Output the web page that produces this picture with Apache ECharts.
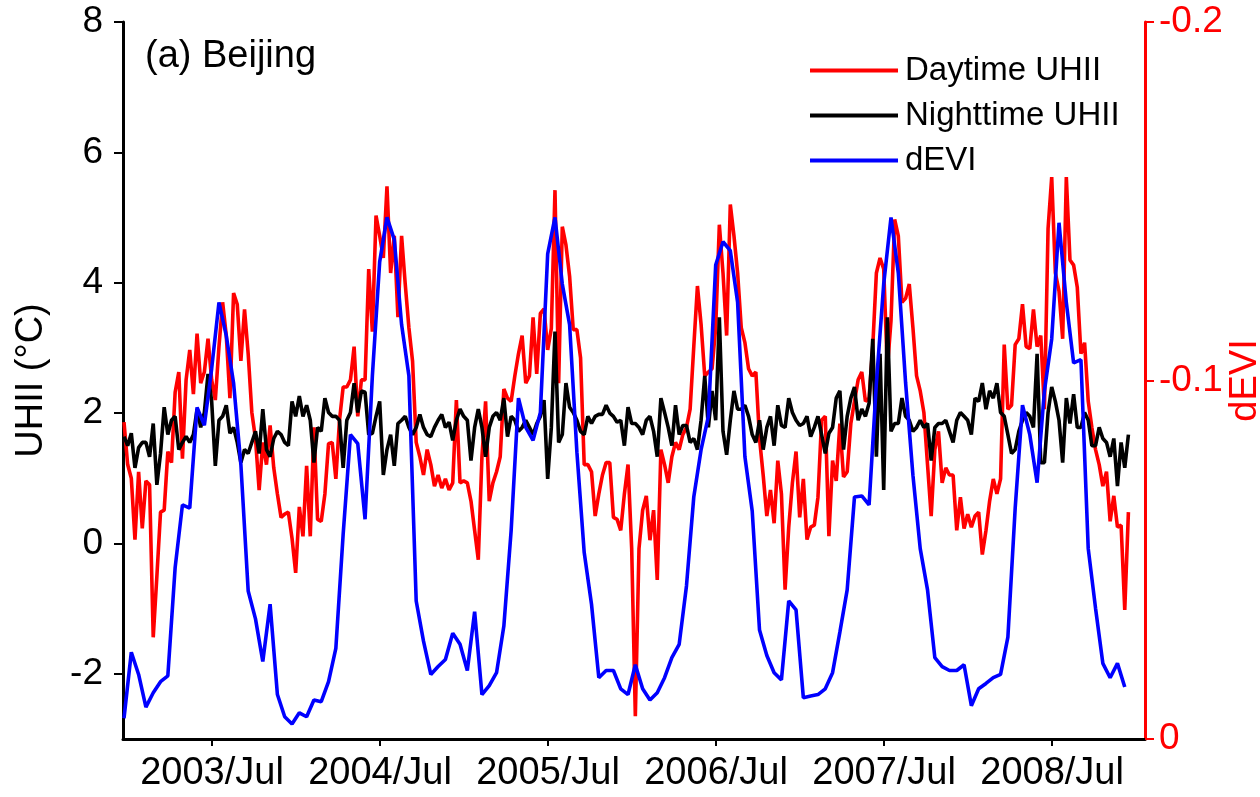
<!DOCTYPE html>
<html>
<head>
<meta charset="utf-8">
<script src="https://cdn.jsdelivr.net/npm/echarts@6/dist/echarts.min.js"></script>
<style>
html,body{margin:0;padding:0;background:#fff;}
#chart{width:1260px;height:797px;}
</style>
</head>
<body>
<div id="chart"></div>
<script>
// 8-day composites starting 2003 (46 per year)
const DAY_UHII = [
1.86,1.21,1.0,0.06,1.10,0.23,0.96,0.90,-1.44,-0.5,
0.48,0.51,1.41,1.24,2.32,2.63,1.30,2.51,2.97,2.29,
3.22,2.46,2.63,3.14,2.51,2.2,3.02,3.70,3.19,2.23,
3.84,3.67,2.80,3.59,2.91,2.01,1.61,0.82,1.55,1.21,
1.81,1.16,0.76,0.40,0.45,0.48,0.08,-0.45,0.56,0.11,
1.19,0.11,1.78,0.37,0.34,0.76,1.53,1.55,0.99,1.89,
2.40,2.40,2.51,3.02,1.95,2.51,2.51,4.21,3.25,5.03,
4.72,4.38,5.48,4.15,4.72,3.47,4.72,3.98,3.31,2.80,
1.55,1.33,1.05,1.44,1.21,0.88,1.05,0.85,0.99,0.82,
0.93,2.20,0.93,0.96,0.93,0.65,0.20,-0.25,1.33,2.18,
0.65,0.93,1.10,1.33,2.37,2.23,2.18,2.57,2.91,3.19,
2.46,2.57,3.47,2.60,3.53,3.6,2.97,3.3,5.42,2.46,
4.86,4.58,4.10,3.28,3.28,2.85,1.21,1.21,1.10,0.42,
0.76,1.05,1.24,1.24,0.40,0.37,0.20,0.76,1.21,-0.08,
-2.65,-0.08,0.51,0.73,0.05,0.51,-0.56,1.44,1.21,0.93,
1.33,1.55,1.44,1.67,1.78,2.06,3.02,3.95,3.36,2.57,
2.63,2.68,3.31,4.89,4.15,3.19,5.20,4.72,4.15,3.31,
3.08,2.68,2.57,2.63,1.61,1.05,0.42,0.82,0.31,1.27,
0.76,-0.71,0.25,0.93,1.41,0.40,0.99,0.06,0.25,0.28,
0.71,1.89,1.95,0.11,1.27,0.96,1.84,1.02,1.10,1.84,
2.18,2.51,2.63,2.18,2.23,3.02,4.15,4.38,4.21,2.68,
3.42,4.97,4.72,3.70,3.76,3.98,3.31,2.57,2.34,2.01,
1.21,0.42,1.44,1.72,0.93,1.16,1.05,1.05,0.20,0.71,
0.23,0.45,0.25,0.42,0.48,-0.17,0.20,0.65,0.99,0.76,
0.99,3.05,2.06,2.12,3.05,3.14,3.67,3.02,2.99,3.59,
3.02,3.19,2.06,4.83,5.62,4.15,3.87,3.14,5.62,4.35,
4.27,3.93,2.91,3.08,2.18,1.78,1.44,1.21,0.88,1.10,
0.34,0.73,0.25,0.28,-1.02,0.48
];
const NIGHT_UHII = [
1.64,1.50,1.69,1.16,1.47,1.55,1.55,1.33,1.84,0.90,
1.38,2.09,1.67,1.89,1.95,1.44,1.55,1.64,1.55,1.67,
2.06,1.78,2.01,2.60,2.18,1.19,1.89,1.95,2.12,1.69,
1.78,1.55,1.24,1.44,1.38,1.55,1.72,1.38,2.06,1.44,
1.33,1.61,1.72,1.67,1.55,1.50,2.18,1.95,2.26,1.95,
2.12,1.89,1.24,1.78,1.72,2.23,2.01,1.95,1.95,1.89,
1.16,1.89,2.01,2.46,2.01,2.34,2.32,1.67,1.69,1.95,
2.18,1.05,1.44,1.67,1.19,1.84,1.89,1.95,1.78,1.67,
1.78,1.98,1.78,1.67,1.64,1.78,1.89,1.98,1.78,1.86,
1.58,1.89,2.06,1.95,1.89,1.27,1.78,2.06,1.78,1.33,
1.78,1.95,2.01,1.89,2.23,1.64,1.95,1.89,1.72,1.78,
1.89,1.78,1.67,1.84,1.95,2.2,0.99,1.78,3.25,1.55,
1.67,2.46,2.09,2.01,1.89,1.72,1.67,1.95,1.84,1.95,
1.98,1.98,2.12,2.0,1.95,1.86,1.89,1.50,2.09,1.84,
1.84,1.78,1.67,1.89,1.95,1.72,1.33,2.23,2.01,1.78,
1.50,2.12,1.67,1.81,1.81,1.55,1.61,1.44,1.89,2.57,
1.78,2.34,1.89,3.47,1.72,1.36,1.89,2.34,2.06,2.06,
2.12,1.95,1.67,1.55,1.89,1.44,1.78,1.95,1.50,2.12,
1.81,1.78,2.23,2.01,1.89,1.81,1.84,1.95,1.64,1.78,
1.95,1.67,1.38,1.69,1.78,2.23,2.34,1.44,1.95,2.23,
2.40,1.89,2.06,1.95,2.15,3.14,1.33,2.91,0.82,3.47,
1.72,1.84,1.84,2.23,1.95,1.89,1.72,1.78,1.89,1.78,
1.84,1.27,1.78,1.84,1.84,1.89,1.72,1.55,1.89,2.01,
1.95,1.89,1.67,2.23,2.18,2.46,2.06,2.34,2.23,2.46,
2.01,1.95,1.67,1.38,1.44,1.72,1.89,2.01,1.95,1.78,
2.91,1.24,1.24,2.01,2.40,2.18,1.89,1.24,2.23,1.84,
2.29,1.78,1.78,2.01,1.89,1.50,1.50,1.78,1.61,1.55,
1.33,1.61,0.88,1.55,1.16,1.67
];
// 16-day composites starting 2003 (23 per year)
const DEVI = [
-0.0058,-0.0242,-0.0180,-0.0089,-0.0129,-0.0160,-0.0176,-0.0478,-0.0653,-0.0644,
-0.0925,-0.0875,-0.1033,-0.1218,-0.1125,-0.0993,-0.0765,-0.0413,-0.0335,-0.0216,
-0.0376,-0.0124,-0.0062,-0.0042,-0.0073,-0.0062,-0.0109,-0.0104,-0.0160,-0.0253,
-0.0571,-0.0849,-0.0824,-0.0613,-0.1013,-0.1331,-0.1455,-0.1393,-0.1156,-0.1013,
-0.0385,-0.0273,-0.0180,-0.0202,-0.0222,-0.0295,-0.0264,-0.0191,-0.0355,-0.0124,
-0.0149,-0.0185,-0.0315,-0.0582,-0.0951,-0.0869,-0.0833,-0.0911,-0.1353,-0.1455,
-0.1269,-0.1156,-0.0800,-0.0520,-0.0376,-0.0171,-0.0191,-0.0191,-0.0140,-0.0124,
-0.0207,-0.0140,-0.0109,-0.0129,-0.0171,-0.0227,-0.0264,-0.0427,-0.0675,-0.0807,
-0.0900,-0.1322,-0.1387,-0.1362,-0.1218,-0.0787,-0.0636,-0.0304,-0.0233,-0.0185,
-0.0165,-0.0385,-0.0360,-0.0115,-0.0120,-0.0124,-0.0140,-0.0185,-0.0298,-0.0416,
-0.0675,-0.0678,-0.0653,-0.0993,-0.1269,-0.1455,-0.1300,-0.0993,-0.0736,-0.0531,
-0.0416,-0.0227,-0.0202,-0.0191,-0.0191,-0.0207,-0.0093,-0.0140,-0.0155,-0.0171,
-0.0180,-0.0284,-0.0644,-0.0931,-0.0849,-0.0715,-0.0971,-0.1116,-0.1440,-0.1218,
-0.1049,-0.1058,-0.0531,-0.0365,-0.0211,-0.0171,-0.0211,-0.0145
];
const START_YEAR = 2003;
const X_TICK_VALUES = [2003.524, 2004.524, 2005.524, 2006.524, 2007.524, 2008.524];
const X_TICK_LABELS = ['2003/Jul','2004/Jul','2005/Jul','2006/Jul','2007/Jul','2008/Jul'];
const Y_TICKS = [-2, 0, 2, 4, 6, 8];
const SERIES_NAMES = ['Daytime UHII', 'Nighttime UHII', 'dEVI'];

const FONT = '"Liberation Sans", Arial, Helvetica, sans-serif';
const dayData = DAY_UHII.map((v, i) => [START_YEAR + i / 46, v]);
const nightData = NIGHT_UHII.map((v, i) => [START_YEAR + i / 46, v]);
const deviData = DEVI.map((v, j) => [START_YEAR + j / 23, v]);

const chart = echarts.init(document.getElementById('chart'), null, {renderer: 'canvas'});
chart.setOption({
  backgroundColor: '#ffffff',
  animation: false,
  title: {
    text: '(a) Beijing', left: 140, top: 33,
    textStyle: {fontFamily: FONT, fontSize: 38, fontWeight: 'normal', color: '#000'}
  },
  legend: {
    orient: 'vertical', left: 805, top: 49,
    icon: 'rect', itemWidth: 88, itemHeight: 4, itemGap: 12,
    data: SERIES_NAMES,
    textStyle: {fontFamily: FONT, fontSize: 33, color: '#000', lineHeight: 33, padding: [0, 0, 0, 2]}
  },
  grid: {left: 123, right: 115, top: 22, bottom: 58, containLabel: false, outerBoundsMode: 'none'},
  xAxis: {
    type: 'value', min: 2002.994, max: 2009.077,
    axisLine: {show: true, onZero: false, lineStyle: {color: '#000', width: 3}},
    axisTick: {show: true, customValues: X_TICK_VALUES, length: 7, inside: false, lineStyle: {color: '#000', width: 2}},
    axisLabel: {
      customValues: X_TICK_VALUES, margin: 16,
      fontFamily: FONT, fontSize: 38, color: '#000',
      formatter: v => { const k = X_TICK_VALUES.findIndex(t => Math.abs(t - v) < 1e-6); return k >= 0 ? X_TICK_LABELS[k] : ''; }
    },
    splitLine: {show: false}
  },
  yAxis: [
    {
      type: 'value', min: -3, max: 8, position: 'left',
      name: 'UHII (°C)', nameLocation: 'middle', nameGap: 72, nameRotate: 90, nameMoveOverlap: false,
      nameTextStyle: {fontFamily: FONT, fontSize: 38, color: '#000'},
      axisLine: {show: true, onZero: false, lineStyle: {color: '#000', width: 3}},
      axisTick: {show: true, customValues: Y_TICKS, length: 9, lineStyle: {color: '#000', width: 2}},
      axisLabel: {customValues: Y_TICKS, margin: 20, fontFamily: FONT, fontSize: 37, color: '#000'},
      splitLine: {show: false}
    },
    {
      type: 'value', min: -0.2, max: 0, interval: 0.1, inverse: true, position: 'right',
      name: 'dEVI', nameLocation: 'middle', nameGap: 82, nameRotate: 90, nameMoveOverlap: false,
      nameTextStyle: {fontFamily: FONT, fontSize: 38, color: '#ff0000'},
      axisLine: {show: true, onZero: false, lineStyle: {color: '#ff0000', width: 3}},
      axisTick: {show: true, length: 9, lineStyle: {color: '#ff0000', width: 2}},
      axisLabel: {
        margin: 14, fontFamily: FONT, fontSize: 37, color: '#ff0000',
        formatter: v => Math.abs(v) < 1e-9 ? '0' : v.toFixed(1)
      },
      splitLine: {show: false}
    }
  ],
  series: [
    {name: SERIES_NAMES[0], type: 'line', data: dayData, yAxisIndex: 0, showSymbol: false, symbol: 'none',
     lineStyle: {color: '#ff0000', width: 3.6}, itemStyle: {color: '#ff0000'}, z: 2},
    {name: SERIES_NAMES[1], type: 'line', data: nightData, yAxisIndex: 0, showSymbol: false, symbol: 'none',
     lineStyle: {color: '#000000', width: 3.6}, itemStyle: {color: '#000000'}, z: 3},
    {name: SERIES_NAMES[2], type: 'line', data: deviData, yAxisIndex: 1, showSymbol: false, symbol: 'none',
     lineStyle: {color: '#0000ff', width: 3.6}, itemStyle: {color: '#0000ff'}, z: 4}
  ]
});
</script>
</body>
</html>
